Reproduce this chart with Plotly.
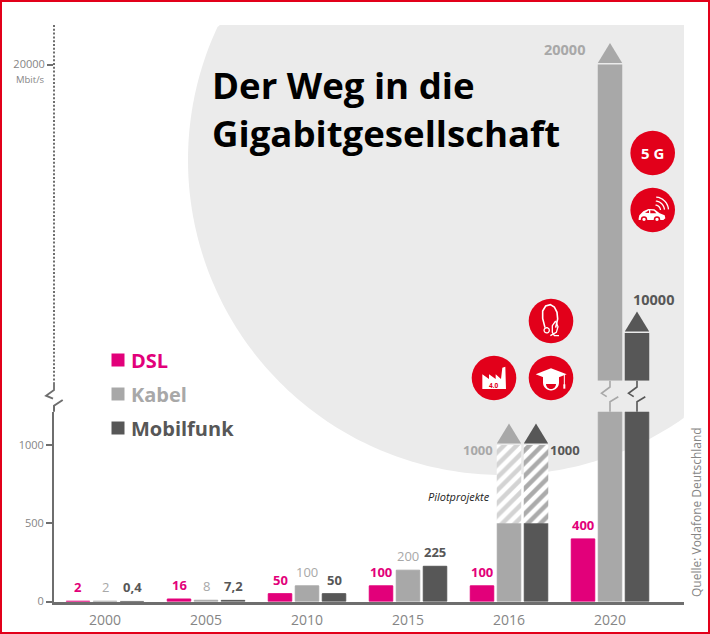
import numpy as np
import plotly.graph_objects as go

# ---------- data ----------
years = ["2000", "2005", "2010", "2015", "2016", "2020"]
dsl = [2, 16, 50, 100, 100, 400]
kabel = [2, 8, 100, 200, 1000, 20000]
mobilfunk = [0.4, 7.2, 50, 225, 1000, 10000]
dsl_labels = ["2", "16", "50", "100", "100", "400"]
kabel_labels = ["2", "8", "100", "200", "1000", "20000"]
mobilfunk_labels = ["0,4", "7,2", "50", "225", "1000", "10000"]
pilot_from = 500          # 2016: solid up to here, hatched (Pilotprojekte) above
lower_ticks = [0, 500, 1000]
upper_ticks = [20000]

# ---------- style / layout constants ----------
W, H = 710, 634
C_DSL, C_KABEL, C_MOBIL = "#e2007a", "#a8a8a8", "#575757"
C_BG, C_RED, C_AXIS, C_TXT = "#ebebeb", "#e2001a", "#6e6e6e", "#858585"
FONT = "Open Sans"
X0, X_STEP = 105, 101       # pixel of first category, pixels per category
X_L, X_R = 54, 684
LOW_B, LOW_T = 601.5, 411.7  # pixel extent of lower axis
UP_B, UP_T = 380.7, 25.0     # pixel extent of upper axis
LOW_SCALE = 0.1565           # px per unit
UP_SCALE = 0.02685
LOW_MAX = (LOW_B - LOW_T) / LOW_SCALE
UP_MIN = 10000 - (UP_B - 333) / UP_SCALE
UP_MAX = 20000 + (64.5 - UP_T) / UP_SCALE
OFFS = {"d": -27 / X_STEP, "k": 0.0, "m": 27 / X_STEP}
BAR_W = 23.5 / X_STEP


def pxx(x):
    return x / W


def pxy(y):
    return 1 - y / H


def path(pts, close=False):
    s = "M " + " L ".join(f"{pxx(x):.5f} {pxy(y):.5f}" for x, y in pts)
    return s + (" Z" if close else "")


def arc(cx, cy, r, a0, a1, n=24):
    t = np.radians(np.linspace(a0, a1, n))
    return list(zip(cx + r * np.cos(t), cy + r * np.sin(t)))


def pshape(pts, fill=None, line=None, lw=0, close=True, layer="above", dash=None):
    d = dict(type="path", xref="paper", yref="paper", path=path(pts, close), layer=layer)
    d["fillcolor"] = fill if fill else "rgba(0,0,0,0)"
    d["line"] = dict(color=line if line else "rgba(0,0,0,0)", width=lw)
    if dash:
        d["line"]["dash"] = dash
    return d


def circle(cx, cy, r, fill, layer="above"):
    return dict(type="circle", xref="paper", yref="paper", x0=pxx(cx - r), x1=pxx(cx + r),
                y0=pxy(cy + r), y1=pxy(cy - r), fillcolor=fill, line=dict(width=0), layer=layer)


idx = np.arange(len(years))
series = [("DSL", dsl, "d", C_DSL), ("Kabel", kabel, "k", C_KABEL), ("Mobilfunk", mobilfunk, "m", C_MOBIL)]

fig = go.Figure()
shapes, ann = [], []

# ---------- bars ----------
for name, vals, key, col in series:
    vals = np.array(vals, float)
    solid = np.where(vals == 1000, pilot_from, np.minimum(vals, LOW_MAX))
    fig.add_trace(go.Bar(x=idx + OFFS[key], y=solid, width=BAR_W, name=name, marker=dict(
        color=col, line=dict(color=col, width=1)), xaxis="x", yaxis="y", showlegend=False))
    pilot = vals == 1000
    if pilot.any():
        fig.add_trace(go.Bar(x=(idx + OFFS[key])[pilot], y=vals[pilot] - pilot_from, base=pilot_from,
                             width=BAR_W + 1 / X_STEP, name=name + " Pilotprojekte", showlegend=False,
                             marker=dict(color="white", line=dict(width=0),
                                         pattern=dict(shape="/", fgcolor=col, bgcolor="white",
                                                      size=9, solidity=0.5)),
                             xaxis="x", yaxis="y"))
    high = vals > LOW_MAX
    if high.any():
        fig.add_trace(go.Bar(x=(idx + OFFS[key])[high], y=vals[high] - UP_MIN, base=UP_MIN,
                             width=BAR_W + 1 / X_STEP, name=name, showlegend=False,
                             marker=dict(color=col, line=dict(width=0)), xaxis="x", yaxis="y2"))
        # zig-zag between the two axis parts
        for xv in (X0 + X_STEP * (idx + OFFS[key]))[high]:
            shapes.append(pshape([(xv, 380.7), (xv, 387), (xv - 8.5, 393.3), (xv - 3.3, 396.7)],
                                 line=col, lw=1.6, close=False))
            shapes.append(pshape([(xv + 8.3, 396.7), (xv, 401.7), (xv, 411.7)],
                                 line=col, lw=1.6, close=False))
    # arrow heads
    arrow = vals >= 1000
    for xv, v in zip((idx + OFFS[key])[arrow], vals[arrow]):
        shapes.append(dict(type="path", xref="x", yref="y2" if v > LOW_MAX else "y",
                           xsizemode="pixel", ysizemode="pixel", xanchor=xv, yanchor=v,
                           path="M -12.2 1.5 L 12.2 1.5 L 0 21.5 Z", fillcolor=col,
                           line=dict(width=0), layer="above"))

# ---------- value labels ----------
label_sets = [(dsl, dsl_labels, "d", C_DSL, True), (kabel, kabel_labels, "k", C_KABEL, False),
              (mobilfunk, mobilfunk_labels, "m", C_MOBIL, True)]
for vals, labs, key, col, bold in label_sets:
    for i, (v, lab) in enumerate(zip(vals, labs)):
        xs, ys, b, fs = 0, 14, bold, 13
        if v == 1000:
            xs, ys, b = (-31, -5, True) if key == "k" else (29, -5, True)
        elif v == 20000:
            xs, ys, b, fs = -46, 15, True, 14.5
        elif v == 10000:
            xs, ys, b, fs = 16.5, 34, True, 14.5
        ann.append(dict(x=idx[i] + OFFS[key], y=v, xref="x", yref="y2" if v > LOW_MAX else "y",
                        text=f"<b>{lab}</b>" if b else lab, showarrow=False, xshift=xs, yshift=ys,
                        font=dict(family=FONT, size=fs, color=col), xanchor="center", yanchor="middle"))

# ---------- background, frame, axis decoration ----------
t = np.radians(np.linspace(0, 360, 361))
gx, gy = np.minimum(503 + 315 * np.cos(t), X_R), np.maximum(160 + 315 * np.sin(t), 25)
shapes.insert(0, pshape(list(zip(gx, gy)), fill=C_BG, layer="below"))
shapes.append(pshape([(1, 1), (709, 1), (709, 633), (1, 633)], line=C_RED, lw=2))
shapes.append(pshape([(X_L, 25), (X_L, 383)], line=C_AXIS, lw=2, close=False, dash="2px,1.8px"))
shapes.append(pshape([(X_L, 383), (X_L, 390), (46, 395.7), (53, 398.7)], line=C_AXIS, lw=1.8, close=False))
shapes.append(pshape([(62.7, 400), (X_L, 405.7), (X_L, LOW_T)], line=C_AXIS, lw=2, close=False))

# ---------- legend (manual, as in the original) ----------
for (name, _, _, col), yc in zip(series, (360, 394, 428)):
    shapes.append(pshape([(111.5, yc - 6.5), (124.5, yc - 6.5), (124.5, yc + 6.5), (111.5, yc + 6.5)], fill=col))
    ann.append(dict(x=pxx(129), y=pxy(yc), xref="paper", yref="paper", text=f"<b>{name}</b>", showarrow=False,
                    xanchor="left", yanchor="middle", font=dict(family=FONT, size=20, color=col)))

# ---------- icons ----------
R = 22.3
for cx, cy in [(652.7, 153), (652.7, 210), (551, 321), (551, 378), (494, 378)]:
    shapes.append(circle(cx, cy, R, C_RED))


def z5(pts):
    return [(465 + x / 3, 295 + y / 3) for x, y in pts]


def z7(pts):
    return [(625 + x / 3, 125 + y / 3) for x, y in pts]


# factory
shapes.append(pshape(z5([(52, 282), (52, 238), (72, 252), (72, 238), (92, 252), (92, 238), (108, 252),
                         (112, 218), (121, 215), (123, 282)]), fill="white"))
# graduation cap
shapes.append(pshape(arc(551, 382.5, 8, 0, 180) + [(543, 377), (559, 377)], fill="white"))
shapes.append(pshape(z5([(212, 238), (258, 220), (305, 238), (258, 256)]), fill="white"))
shapes.append(pshape(arc(551, 384, 5, 0, 180), fill=C_RED))
shapes.append(pshape(z5([(298, 240), (298, 272)]), line="white", lw=1, close=False))
shapes.append(pshape(z5([(295, 268), (301, 268), (301, 281), (295, 281)]), fill="white"))
# stethoscope
shapes.append(pshape(z5([(240, 98), (233, 70), (233, 48), (242, 33), (256, 29), (268, 36), (276, 52),
                         (278, 72), (272, 98)]), line="white", lw=1.6, close=False))
shapes.append(pshape(z5([(272, 78), (262, 92), (262, 112), (268, 122), (282, 122)]), line="white", lw=1.3, close=False))
shapes.append(pshape(z5([(272, 78), (279, 95), (274, 112), (256, 122)]), line="white", lw=1.3, close=False))
shapes.append(pshape(arc(546.7, 330.3, 2.6, 0, 360), line="white", lw=1.3))
# car
shapes.append(pshape(z7([(41, 280), (43, 271), (55, 259), (70, 252), (88, 253), (104, 265), (119, 271),
                         (121, 280), (115, 285), (41, 285)]), fill="white"))
shapes.append(pshape(z7([(60, 263), (72, 256), (72, 264)]), fill=C_RED))
shapes.append(pshape(z7([(76, 256), (87, 257), (94, 265), (76, 265)]), fill=C_RED))
for wx in (57, 96):
    shapes.append(circle(625 + wx / 3, 125 + 283 / 3, 3.2, C_RED))
    shapes.append(circle(625 + wx / 3, 125 + 283 / 3, 1.7, "white"))
for r in (5.5, 9.5, 13.5):
    shapes.append(pshape(arc(655, 210.5, r, -85, -5), line="white", lw=1.3, close=False))

ann += [
    dict(x=pxx(652.7), y=pxy(153), xref="paper", yref="paper", text="<b>5 G</b>", showarrow=False,
         xanchor="center", yanchor="middle", font=dict(family=FONT, size=15, color="white")),
    dict(x=pxx(494), y=pxy(385), xref="paper", yref="paper", text="<b>4.0</b>", showarrow=False,
         xanchor="center", yanchor="middle", font=dict(family=FONT, size=6.5, color=C_RED)),
    dict(x=pxx(209.5), y=pxy(84.5), xref="paper", yref="paper", text="<b>Der Weg in die</b>", showarrow=False,
         xanchor="left", yanchor="middle", font=dict(family=FONT, size=36.6, color="black")),
    dict(x=pxx(209.5), y=pxy(132.5), xref="paper", yref="paper", text="<b>Gigabitgesellschaft</b>", showarrow=False,
         xanchor="left", yanchor="middle", font=dict(family=FONT, size=36.6, color="black")),
    dict(x=pxx(47.5), y=pxy(79), xref="paper", yref="paper", text="Mbit/s", showarrow=False,
         xanchor="right", yanchor="middle", font=dict(family=FONT, size=9.5, color=C_TXT)),
    dict(x=pxx(491.5), y=pxy(496), xref="paper", yref="paper", text="<i>Pilotprojekte</i>", showarrow=False,
         xanchor="right", yanchor="middle", font=dict(family=FONT, size=11, color="#222222")),
    dict(x=pxx(696), y=pxy(512), xref="paper", yref="paper", text="Quelle: Vodafone Deutschland", showarrow=False,
         textangle=-90, xanchor="center", yanchor="middle", font=dict(family=FONT, size=12, color=C_TXT)),
]

fig.update_layout(
    width=W, height=H, margin=dict(l=0, r=0, t=0, b=0, pad=0), autosize=False,
    paper_bgcolor="white", plot_bgcolor="rgba(0,0,0,0)", barmode="overlay", showlegend=False,
    xaxis=dict(domain=[pxx(X_L), pxx(X_R)], range=[(X_L - X0) / X_STEP, (X_R - X0) / X_STEP], automargin=False,
               tickmode="array", tickvals=idx, ticktext=years, ticks="", showgrid=False, zeroline=False,
               showline=True, linecolor=C_AXIS, linewidth=2.5, anchor="y", ticklabelstandoff=4,
               tickfont=dict(family=FONT, size=14, color=C_TXT)),
    yaxis=dict(domain=[pxy(LOW_B), pxy(LOW_T)], range=[0, LOW_MAX], tickmode="array", tickvals=lower_ticks,
               automargin=False,
               ticks="outside", ticklen=6, tickwidth=1.5, tickcolor=C_AXIS, showgrid=False, zeroline=False,
               showline=True, linecolor=C_AXIS, linewidth=2, anchor="x",
               tickfont=dict(family=FONT, size=11, color=C_TXT)),
    yaxis2=dict(domain=[pxy(UP_B), pxy(UP_T)], range=[UP_MIN, UP_MAX], tickmode="array", tickvals=upper_ticks,
                ticktext=[str(v) for v in upper_ticks], automargin=False,
                ticks="outside", ticklen=6, tickwidth=1.5, tickcolor=C_AXIS, showgrid=False, zeroline=False,
                showline=False, anchor="x", tickfont=dict(family=FONT, size=11, color=C_TXT)),
    shapes=shapes, annotations=ann,
)
fig.write_html("out.html", config=dict(displayModeBar=False, responsive=False),
               default_width="710px", default_height="634px",
               post_script="document.body.style.margin='0';")
